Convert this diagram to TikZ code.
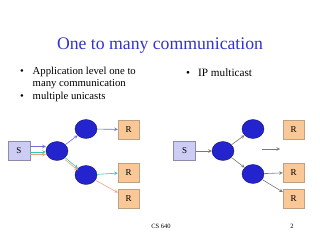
\documentclass[tikz,border=0pt]{standalone}
\usepackage{fontspec}
\setmainfont{Liberation Serif}
\usetikzlibrary{shapes.geometric}
\definecolor{titleblue}{RGB}{51,51,204}
\definecolor{srcfill}{RGB}{204,204,245}
\definecolor{srcline}{RGB}{140,140,170}
\definecolor{rcvfill}{RGB}{250,200,150}
\definecolor{rcvline}{RGB}{190,160,130}
\definecolor{rtrfill}{RGB}{36,36,206}
\definecolor{rtrline}{RGB}{20,20,110}
\definecolor{bluepath}{RGB}{110,110,220}
\definecolor{tealpath}{RGB}{50,200,170}
\definecolor{salmonpath}{RGB}{240,160,130}
\definecolor{graypath}{RGB}{120,120,120}
\begin{document}
\begin{tikzpicture}[x=1pt, y=1pt]
        \tikzstyle{src} = [draw=srcline, fill=srcfill, rectangle, minimum width=22pt, minimum height=19pt, inner sep=1pt, font=\fontsize{9}{11}\selectfont]
        \tikzstyle{rcv} = [draw=rcvline, fill=rcvfill, rectangle, minimum width=21pt, minimum height=19pt, inner sep=1pt, font=\fontsize{9}{11}\selectfont]
        \tikzstyle{rtr} = [draw=rtrline, fill=rtrfill, ellipse, minimum width=22pt, minimum height=19pt, inner sep=0pt]
        \tikzstyle{bul} = [anchor=base west, inner sep=0pt]
        \tikzstyle{lnk} = [->, >=stealth, line width=0.6pt]
        \useasboundingbox (0,0) rectangle (320,240);
        % title and bullets
        \node[anchor=base, inner sep=0pt, text=titleblue, font=\fontsize{17.7}{20}\selectfont] (title) at (160, 190) {One to many communication};
        \node[bul, font=\fontsize{10.7}{12}\selectfont] (b1) at (20, 165) {•};
        \node[bul, font=\fontsize{10.7}{12}\selectfont] (t1) at (32.5, 165) {Application level one to};
        \node[bul, font=\fontsize{10.7}{12}\selectfont] (t1b) at (32.5, 153.3) {many communication};
        \node[bul, font=\fontsize{10.7}{12}\selectfont] (b2) at (20, 140) {•};
        \node[bul, font=\fontsize{10.7}{12}\selectfont] (t2) at (32.5, 140) {multiple unicasts};
        \node[bul, font=\fontsize{11.2}{13}\selectfont] (b3) at (186, 163.3) {•};
        \node[bul, font=\fontsize{11.2}{13}\selectfont] (t3) at (198, 163.3) {IP multicast};
        % unicast side
        \node[src] (Sl) at (19, 89.5) {S};
        \node[rtr] (C1l) at (57, 89) {};
        \node[rtr] (C2l) at (86, 111) {};
        \node[rtr] (C3l) at (86, 65) {};
        \node[rcv] (R1l) at (128.5, 110.5) {R};
        \node[rcv] (R2l) at (128.5, 67.5) {R};
        \node[rcv] (R3l) at (128.5, 41.5) {R};
        \draw[lnk, bluepath] ([yshift=4pt]Sl.east) -- ([yshift=4pt]Sl.east -| C1l.west);
        \draw[lnk, tealpath] ([yshift=-1.5pt]Sl.east) -- ([yshift=-1.5pt]Sl.east -| C1l.west);
        \draw[lnk, salmonpath] ([yshift=-4pt]Sl.east) -- ([yshift=-4pt]Sl.east -| C1l.west);
        \draw[lnk, bluepath] (C1l) -- (C2l);
        \draw[lnk, tealpath] (C1l) -- (C3l);
        \draw[lnk, salmonpath, transform canvas={yshift=-2pt}] (C1l) -- (C3l);
        \draw[lnk, bluepath] (C2l) -- (R1l);
        \draw[lnk, tealpath] (C3l) -- (R2l);
        \draw[lnk, salmonpath] (C3l) -- (R3l);
        % multicast side
        \node[src] (Sr) at (184.5, 89) {S};
        \node[rtr] (C1r) at (223, 89) {};
        \node[rtr] (C2r) at (253, 111) {};
        \node[rtr] (C3r) at (253, 66) {};
        \node[rcv] (R1r) at (293.5, 110.5) {R};
        \node[rcv] (R2r) at (293.5, 67.5) {R};
        \node[rcv] (R3r) at (293.5, 41.5) {R};
        \coordinate (freeA) at (262, 91);
        \coordinate (freeB) at (280, 91);
        \draw[lnk, graypath] (Sr) -- (C1r);
        \draw[lnk, graypath] (C1r) -- (C2r);
        \draw[lnk, graypath] (C1r) -- (C3r);
        \draw[lnk, graypath] (C3r) -- (R2r);
        \draw[lnk, graypath] (C3r) -- (R3r);
        \draw[lnk, graypath] (freeA) -- (freeB);
        % footer
        \node[anchor=base, inner sep=0pt, font=\fontsize{6.5}{8}\selectfont] (foot) at (161, 12) {CS 640};
        \node[anchor=base, inner sep=0pt, font=\fontsize{6.5}{8}\selectfont] (page) at (292, 12) {2};
      \end{tikzpicture}
\end{document}
